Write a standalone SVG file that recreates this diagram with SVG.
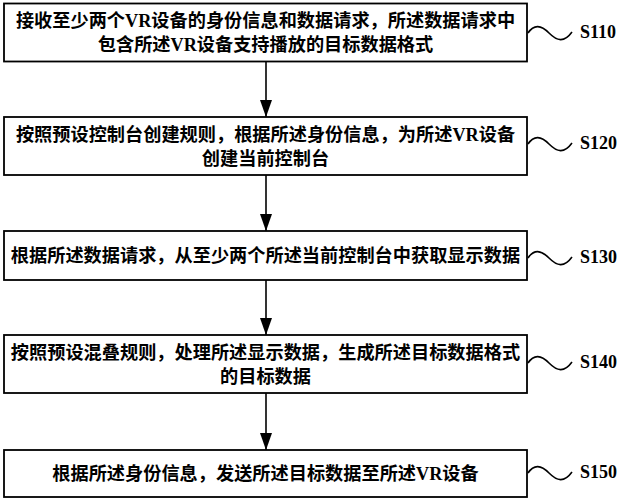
<svg xmlns="http://www.w3.org/2000/svg" width="620" height="500" viewBox="0 0 620 500">
<style>
.box{fill:#fff;stroke:#000;stroke-width:1.8}
.t{font-family:"Liberation Serif","Noto Sans CJK SC",serif;font-size:18.2px;font-weight:bold;text-anchor:middle;fill:#000}
.lbl{font-family:"Liberation Serif",serif;font-size:18px;font-weight:bold;fill:#000}
.wave{fill:none;stroke:#000;stroke-width:1.6}
.conn{stroke:#000;stroke-width:1.6;fill:none}
</style>
<defs>
<marker id="arr" viewBox="0 0 17 12" refX="17" refY="6" markerWidth="17" markerHeight="12" markerUnits="userSpaceOnUse" orient="auto">
<path d="M0,0 L17,6 L0,12 Z" fill="#000"/>
</marker>
</defs>
<rect width="620" height="500" fill="#fff"/>
<g id="connectors">
<line class="conn" x1="266" y1="62" x2="266" y2="117" marker-end="url(#arr)"/>
<line class="conn" x1="266" y1="175" x2="266" y2="231" marker-end="url(#arr)"/>
<line class="conn" x1="266" y1="280" x2="266" y2="335" marker-end="url(#arr)"/>
<line class="conn" x1="266" y1="393" x2="266" y2="450" marker-end="url(#arr)"/>
</g>
<g id="S110">
<rect class="box" x="4" y="3.5" width="523" height="58"/>
<text class="t" x="265.5" y="27">接收至少两个VR设备的身份信息和数据请求，所述数据请求中</text>
<text class="t" x="265.5" y="51">包含所述VR设备支持播放的目标数据格式</text>
<path class="wave" d="M528,33 C534,24 541,25 549,33 S564,43 572,32"/>
<text class="lbl" x="580" y="38">S110</text>
</g>
<g id="S120">
<rect class="box" x="4" y="117" width="523" height="58"/>
<text class="t" x="265.5" y="141">按照预设控制台创建规则，根据所述身份信息，为所述VR设备</text>
<text class="t" x="265.5" y="165">创建当前控制台</text>
<path class="wave" d="M528,144 C534,135 541,136 549,144 S564,154 572,143"/>
<text class="lbl" x="580" y="149">S120</text>
</g>
<g id="S130">
<rect class="box" x="4" y="231" width="523" height="49"/>
<text class="t" x="265.5" y="262">根据所述数据请求，从至少两个所述当前控制台中获取显示数据</text>
<path class="wave" d="M528,258 C534,249 541,250 549,258 S564,268 572,257"/>
<text class="lbl" x="580" y="263">S130</text>
</g>
<g id="S140">
<rect class="box" x="4" y="335" width="523" height="58"/>
<text class="t" x="265.5" y="359">按照预设混叠规则，处理所述显示数据，生成所述目标数据格式</text>
<text class="t" x="265.5" y="383">的目标数据</text>
<path class="wave" d="M528,363 C534,354 541,355 549,363 S564,373 572,362"/>
<text class="lbl" x="580" y="368">S140</text>
</g>
<g id="S150">
<rect class="box" x="4" y="450" width="523" height="47"/>
<text class="t" x="265.5" y="480">根据所述身份信息，发送所述目标数据至所述VR设备</text>
<path class="wave" d="M528,473 C534,464 541,465 549,473 S564,483 572,472"/>
<text class="lbl" x="580" y="478">S150</text>
</g>
</svg>
